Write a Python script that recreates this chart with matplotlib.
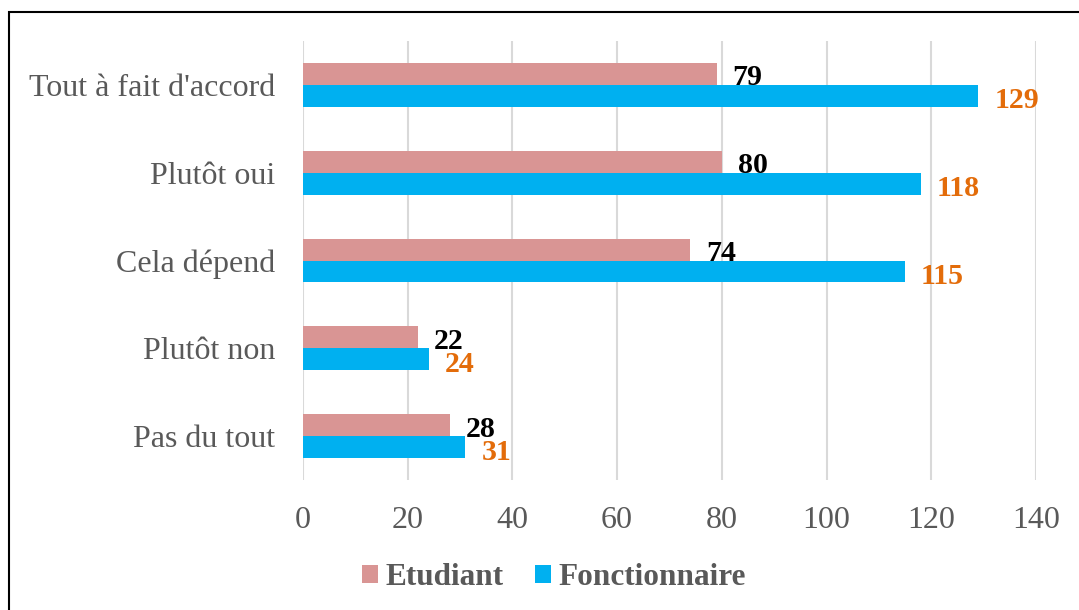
import matplotlib
matplotlib.use('Agg')
import matplotlib.pyplot as plt
import numpy as np

categories = ["Tout à fait d'accord", "Plutôt oui", "Cela dépend", "Plutôt non", "Pas du tout"]
etudiant = [79, 80, 74, 22, 28]
fonctionnaire = [129, 118, 115, 24, 31]
xticks = [0, 20, 40, 60, 80, 100, 120, 140]

plt.rcParams['font.family'] = ['Liberation Serif', 'DejaVu Serif']

fig = plt.figure(figsize=(10.79, 6.10), dpi=100)
ax = fig.add_axes([0.2808, 0.2131, 0.6793, 0.7197])

y = np.arange(len(categories))
h = 0.25
b1 = ax.barh(y - h / 2, etudiant, height=h, color='#D99594', label='Etudiant', zorder=3)
b2 = ax.barh(y + h / 2, fonctionnaire, height=h, color='#00B0F0', label='Fonctionnaire', zorder=3)

for rect, v in zip(b1, etudiant):
    ax.annotate(str(v), (rect.get_width(), rect.get_y() + rect.get_height() / 2),
                xytext=(16, -1), textcoords='offset pixels', va='center_baseline', ha='left',
                fontsize=21.5, fontweight='bold', color='black')
for rect, v in zip(b2, fonctionnaire):
    ax.annotate(str(v), (rect.get_width(), rect.get_y() + rect.get_height() / 2),
                xytext=(16, -2), textcoords='offset pixels', va='center_baseline', ha='left',
                fontsize=21.5, fontweight='bold', color='#E36C0A')

ax.set_ylim(len(categories) - 0.5, -0.5)
ax.set_xlim(0, 140)
ax.set_xticks(xticks)
ax.set_yticks(y)
ax.set_yticklabels(categories)
ax.tick_params(axis='both', length=0, labelsize=23, colors='#595959')
ax.tick_params(axis='x', pad=19)
ax.tick_params(axis='y', pad=20)
ax.grid(axis='x', color='#D9D9D9', linewidth=1.5, zorder=0)
for s in ax.spines.values():
    s.set_visible(False)

leg = fig.legend(loc='center', bbox_to_anchor=(0.5135, 0.053), ncol=2, frameon=False,
                 prop={'size': 22.5, 'weight': 'bold'}, handlelength=0.5, handleheight=0.5,
                 handletextpad=0.25, columnspacing=1.0)
for t in leg.get_texts():
    t.set_color('#595959')

# outer frame (only top and left visible in the crop)
fig.add_artist(plt.Rectangle((9 / 1079, -0.1), 1.2, 1 - 12 / 610 + 0.1,
                             transform=fig.transFigure, fill=False,
                             edgecolor='black', linewidth=1.5))

fig.savefig('out.png', dpi=100)
